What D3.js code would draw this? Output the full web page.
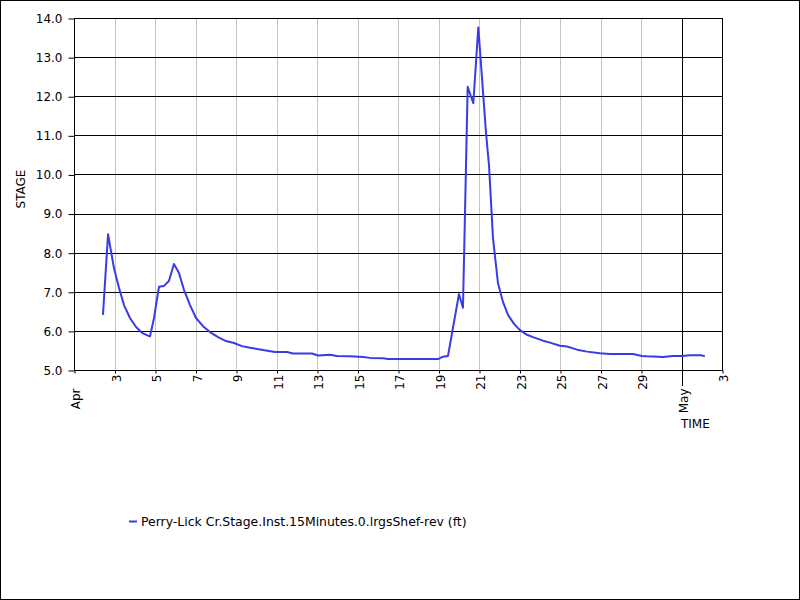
<!DOCTYPE html>
<html>
<head>
<meta charset="utf-8">
<script src="https://cdn.jsdelivr.net/npm/d3@7"></script>
<style>
  html, body { margin: 0; padding: 0; background: #fff; }
  svg { display: block; font-family: "DejaVu Sans", Verdana, sans-serif; }
</style>
</head>
<body>
<svg id="chart" width="800" height="600"></svg>
<script>
// ---- data ----
const times = [
  "2021-04-02T10:20","2021-04-02T16:20","2021-04-02T23:25","2021-04-03T05:20","2021-04-03T11:15",
  "2021-04-03T18:20","2021-04-04T01:30","2021-04-04T08:35","2021-04-04T15:40","2021-04-04T18:05",
  "2021-04-04T22:50","2021-04-05T04:45","2021-04-05T10:40","2021-04-05T16:35","2021-04-05T22:30",
  "2021-04-06T04:25","2021-04-06T10:20","2021-04-06T17:30","2021-04-07T00:35","2021-04-07T08:55",
  "2021-04-07T17:10","2021-04-08T02:40","2021-04-08T12:10","2021-04-08T21:40","2021-04-09T07:05",
  "2021-04-09T16:35","2021-04-10T08:00","2021-04-10T22:15","2021-04-11T12:25","2021-04-11T19:35",
  "2021-04-12T18:05","2021-04-13T01:10","2021-04-13T15:25","2021-04-13T23:40","2021-04-14T15:05",
  "2021-04-15T06:30","2021-04-15T14:50","2021-04-16T06:15","2021-04-16T12:10","2021-04-18T23:25",
  "2021-04-19T05:20","2021-04-19T11:15","2021-04-20T00:15","2021-04-20T05:00","2021-04-20T10:35",
  "2021-04-20T17:15","2021-04-20T23:10","2021-04-21T08:20","2021-04-21T11:50","2021-04-21T16:35",
  "2021-04-21T22:30","2021-04-22T04:25","2021-04-22T10:20","2021-04-22T17:30","2021-04-23T00:35",
  "2021-04-23T08:55","2021-04-23T16:00","2021-04-24T03:50","2021-04-24T12:10","2021-04-25T00:00",
  "2021-04-25T08:20","2021-04-25T20:10","2021-04-26T08:00","2021-04-26T23:25","2021-04-27T11:15",
  "2021-04-28T14:30","2021-04-29T01:10","2021-04-29T07:05","2021-04-30T02:05","2021-04-30T13:55",
  "2021-05-01T00:35","2021-05-01T10:05","2021-05-01T22:50","2021-05-02T03:35"
];
const stage = [
  6.41, 8.47, 7.60, 7.10, 6.66,
  6.33, 6.10, 5.95, 5.88, 5.86,
  6.33, 7.13, 7.15, 7.28, 7.71,
  7.48, 7.05, 6.66, 6.33, 6.12,
  5.97, 5.84, 5.74, 5.69, 5.61,
  5.57, 5.51, 5.46, 5.46, 5.42,
  5.42, 5.37, 5.39, 5.36, 5.35,
  5.33, 5.31, 5.30, 5.28, 5.28,
  5.34, 5.36, 6.94, 6.59, 12.24,
  11.82, 13.76, 11.06, 10.24, 8.37,
  7.22, 6.74, 6.41, 6.18, 6.02,
  5.90, 5.84, 5.75, 5.70, 5.62,
  5.60, 5.52, 5.47, 5.43, 5.41,
  5.41, 5.36, 5.35, 5.33, 5.36,
  5.36, 5.38, 5.38, 5.35
];
const yTicks = [5, 6, 7, 8, 9, 10, 11, 12, 13, 14];
const seriesName = "Perry-Lick Cr.Stage.Inst.15Minutes.0.lrgsShef-rev (ft)";
const yTitle = "STAGE";
const xTitle = "TIME";
const xStart = "2021-04-01T00:00", xEnd = "2021-05-03T00:00";

// ---- layout ----
const svg = d3.select("#chart");
const W = 800, H = 600;
const L = 74, R = 722, T = 18, B = 370;
const parse = d3.isoParse;
const data = times.map((t, i) => ({ t: parse(t), v: stage[i] }));

const x = d3.scaleTime().domain([parse(xStart), parse(xEnd)]).range([L, R]);
const y = d3.scaleLinear().domain([5, 14]).range([B, T]);

// outer border
svg.append("rect").attr("x", 0.5).attr("y", 0.5).attr("width", W - 1).attr("height", H - 1)
  .attr("fill", "#fff").attr("stroke", "#000");

// vertical gridlines (odd days) and month line
const dayTicks = d3.timeDay.range(parse(xStart), d3.timeDay.offset(parse(xEnd), 1));
const labelDays = dayTicks.filter(d => d.getDate() % 2 === 1);
svg.append("g").selectAll("line").data(labelDays.filter(d => d.getDate() !== 1))
  .join("line")
  .attr("x1", d => Math.round(x(d)) + 0.5).attr("x2", d => Math.round(x(d)) + 0.5)
  .attr("y1", T).attr("y2", B)
  .attr("stroke", "#c4c4c4").attr("stroke-width", 1);

// horizontal gridlines
svg.append("g").selectAll("line").data(yTicks)
  .join("line")
  .attr("x1", L).attr("x2", R)
  .attr("y1", d => Math.round(y(d)) + 0.5).attr("y2", d => Math.round(y(d)) + 0.5)
  .attr("stroke", "#000").attr("stroke-width", 1);

// month boundary lines (May 1)
const months = labelDays.filter(d => d.getDate() === 1);
svg.append("g").selectAll("line").data(months.filter(d => x(d) > L + 1 && x(d) < R - 1))
  .join("line")
  .attr("x1", d => Math.round(x(d)) + 0.5).attr("x2", d => Math.round(x(d)) + 0.5)
  .attr("y1", T).attr("y2", B + 16)
  .attr("stroke", "#000");

// plot frame
svg.append("rect").attr("x", L + 0.5).attr("y", T + 0.5)
  .attr("width", R - L).attr("height", B - T)
  .attr("fill", "none").attr("stroke", "#000");

// y axis
const yAxis = d3.axisLeft(y).tickValues(yTicks).tickFormat(d3.format(".1f")).tickSize(6).tickPadding(6);
const gy = svg.append("g").attr("transform", `translate(${L + 0.5},0.5)`).call(yAxis);
gy.select(".domain").remove();
gy.selectAll("text").attr("font-size", 12).attr("fill", "#000")
  .attr("font-family", "DejaVu Sans, Verdana, sans-serif");
gy.selectAll("line").attr("stroke", "#000");

// x axis
const fmtDay = d => d.getDate() === 1 ? d3.timeFormat("%b")(d) : String(d.getDate());
const xAxis = d3.axisBottom(x).tickValues(labelDays).tickFormat(fmtDay).tickSize(3).tickPadding(0);
const gx = svg.append("g").attr("transform", `translate(0.5,${B + 0.5})`).call(xAxis);
gx.select(".domain").remove();
gx.selectAll("line").attr("stroke", "#000");
gx.selectAll("text")
  .attr("font-size", 12).attr("fill", "#000")
  .attr("font-family", "DejaVu Sans, Verdana, sans-serif")
  .attr("dy", null)
  .attr("text-anchor", "end")
  .attr("transform", d => d.getDate() === 1 ? "translate(5,18) rotate(-90)" : "translate(5,4) rotate(-90)")
  .attr("y", 0).attr("x", 0);

// line
const line = d3.line().x(d => x(d.t)).y(d => y(d.v));
svg.append("path").datum(data)
  .attr("d", line)
  .attr("fill", "none")
  .attr("stroke", "#3a3ae8")
  .attr("stroke-width", 2)
  .attr("stroke-linejoin", "round");

// axis titles
svg.append("text").text(yTitle)
  .attr("transform", "translate(25,189) rotate(-90)")
  .attr("text-anchor", "middle").attr("font-size", 12).attr("fill", "#000");
svg.append("text").text(xTitle)
  .attr("x", 681).attr("y", 428)
  .attr("font-size", 12).attr("fill", "#000");

// legend
svg.append("line").attr("x1", 129).attr("x2", 137).attr("y1", 521.5).attr("y2", 521.5)
  .attr("stroke", "#3a3ae8").attr("stroke-width", 2);
svg.append("text").text(seriesName)
  .attr("x", 141).attr("y", 526)
  .attr("font-size", 12.45).attr("fill", "#000");
</script>
</body>
</html>
